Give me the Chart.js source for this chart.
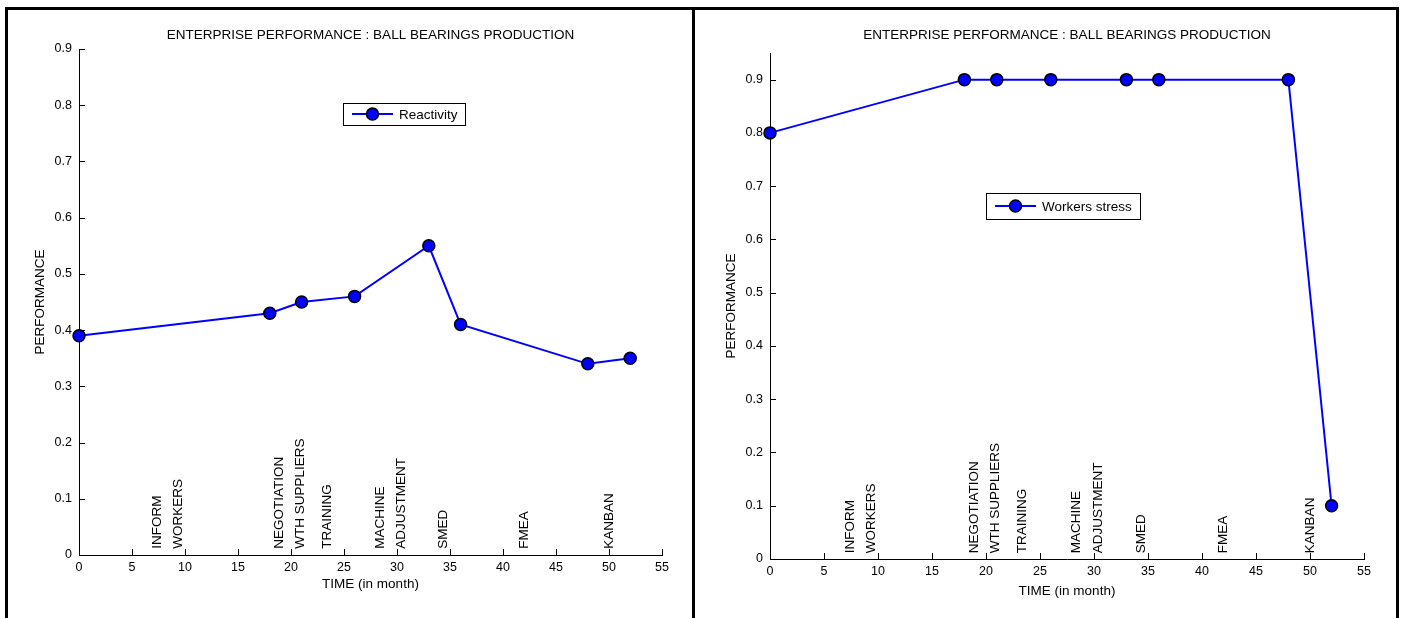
<!DOCTYPE html>
<html>
<head>
<meta charset="utf-8">
<script src="https://cdn.jsdelivr.net/npm/chart.js@4"></script>
<style>
  body { margin: 0; background: #fff; }
  #page { position: relative; width: 1402px; height: 618px; overflow: hidden; background: #fff; }
  .rule { position: absolute; background: #000; z-index: 2; }
  canvas { position: absolute; top: 10px; }
</style>
</head>
<body>
<div id="page">
  <div class="rule" style="left:5px;top:7px;width:3px;height:611px"></div>
  <div class="rule" style="left:5px;top:7px;width:1394px;height:3px"></div>
  <div class="rule" style="left:692px;top:7px;width:3px;height:611px"></div>
  <div class="rule" style="left:1396px;top:7px;width:3px;height:611px"></div>
  <canvas id="reactivityChart" width="682" height="608" style="left:10px"></canvas>
  <canvas id="stressChart" width="700" height="608" style="left:695px"></canvas>
</div>
<script>
// Data
const months = [0, 18, 21, 26, 33, 36, 48, 52];
const reactivity = [0.39, 0.43, 0.45, 0.46, 0.55, 0.41, 0.34, 0.35];
const workersStress = [0.8, 0.9, 0.9, 0.9, 0.9, 0.9, 0.9, 0.1];

// Improvement steps written along the time axis
const stepLabels = ["INFORM", "WORKERS", "NEGOTIATION", "WTH SUPPLIERS", "TRAINING", "MACHINE", "ADJUSTMENT", "SMED", "FMEA", "KANBAN"];
const stepMonths = [7.4, 9.4, 18.9, 20.9, 23.4, 28.4, 30.4, 34.4, 42, 50];
const stepBase = 0.011;

// Axis ticks
const xTicks = [0, 5, 10, 15, 20, 25, 30, 35, 40, 45, 50, 55];
const yTicks = [0, 0.1, 0.2, 0.3, 0.4, 0.5, 0.6, 0.7, 0.8, 0.9];
const yTickLabels = ["0", "0.1", "0.2", "0.3", "0.4", "0.5", "0.6", "0.7", "0.8", "0.9"];

const chartTitle = "ENTERPRISE PERFORMANCE : BALL BEARINGS PRODUCTION";
const BLUE = "#0000ff";
const FAMILY = "'Liberation Sans', Arial, Helvetica, sans-serif";
const textFont = { family: FAMILY, size: 13.5, lineHeight: 1 };
const tickFont = { family: FAMILY, size: 12.5, lineHeight: 1 };

// Draws the MATLAB-ish extras: inward ticks, title, step labels, legend box
const panelDecor = {
    id: "panelDecor",
    beforeDatasetsDraw(chart) {
        const { ctx, chartArea, scales: { x, y } } = chart;
        ctx.save();
        ctx.strokeStyle = "#000";
        ctx.lineWidth = 1;
        ctx.beginPath();
        xTicks.forEach((v) => {
            const px = Math.round(x.getPixelForValue(v)) + 0.5;
            ctx.moveTo(px, chartArea.bottom);
            ctx.lineTo(px, chartArea.bottom - 6);
        });
        yTicks.forEach((v) => {
            const py = Math.round(y.getPixelForValue(v)) + 0.5;
            ctx.moveTo(chartArea.left, py);
            ctx.lineTo(chartArea.left + 6, py);
        });
        ctx.stroke();
        ctx.restore();
    },
    afterDraw(chart, args, opts) {
        const { ctx, chartArea, scales: { x, y } } = chart;
        const font = `${textFont.size}px ${FAMILY}`;
        ctx.save();
        ctx.fillStyle = "#000";
        ctx.font = font;

        // Title, centred over the plot area
        ctx.textAlign = "center";
        ctx.textBaseline = "middle";
        ctx.fillText(chartTitle, (chartArea.left + chartArea.right) / 2, opts.titleY);

        // Vertical step labels
        ctx.textAlign = "left";
        stepLabels.forEach((label, i) => {
            ctx.save();
            ctx.translate(x.getPixelForValue(stepMonths[i]), y.getPixelForValue(stepBase));
            ctx.rotate(-Math.PI / 2);
            ctx.fillText(label, 0, 0);
            ctx.restore();
        });

        // Legend box
        const lg = opts.legend;
        ctx.fillStyle = "#fff";
        ctx.fillRect(lg.x, lg.y, lg.w, lg.h);
        ctx.strokeStyle = "#000";
        ctx.lineWidth = 1;
        ctx.strokeRect(lg.x + 0.5, lg.y + 0.5, lg.w, lg.h);
        const cy = lg.y + lg.h / 2;
        ctx.strokeStyle = BLUE;
        ctx.lineWidth = 2;
        ctx.beginPath();
        ctx.moveTo(lg.x + 9, cy);
        ctx.lineTo(lg.x + 50, cy);
        ctx.stroke();
        ctx.beginPath();
        ctx.arc(lg.x + 29.5, cy, 6, 0, Math.PI * 2);
        ctx.fillStyle = BLUE;
        ctx.fill();
        ctx.strokeStyle = "#000";
        ctx.lineWidth = 1.5;
        ctx.stroke();
        ctx.fillStyle = "#000";
        ctx.textBaseline = "middle";
        ctx.fillText(chart.data.datasets[0].label, lg.x + 56, cy + 1);
        ctx.restore();
    },
};

const makePanel = (canvasId, p) => {
    const ctx = document.getElementById(canvasId);
    return new Chart(ctx, {
        type: "line",
        data: {
            datasets: [
                {
                    label: p.label,
                    data: months.map((m, i) => ({ x: m, y: p.values[i] })),
                    borderColor: BLUE,
                    backgroundColor: BLUE,
                    borderWidth: 2,
                    tension: 0,
                    pointRadius: 6,
                    pointBorderWidth: 1.5,
                    pointBackgroundColor: BLUE,
                    pointBorderColor: "#000",
                    clip: false,
                },
            ],
        },
        options: {
            responsive: false,
            animation: false,
            events: [],
            layout: { padding: { top: p.top, right: p.right, left: 0, bottom: 0 } },
            plugins: {
                legend: { display: false },
                tooltip: { enabled: false },
                panelDecor: { titleY: 25, legend: p.legend },
            },
            scales: {
                x: {
                    type: "linear",
                    min: 0,
                    max: 55,
                    afterBuildTicks: (s) => { s.ticks = xTicks.map((v) => ({ value: v })); },
                    afterFit: (s) => { s.height = p.xHeight; },
                    grid: { display: false, drawTicks: false },
                    border: { display: true, color: "#000", width: 1 },
                    ticks: { font: tickFont, color: "#000", padding: 6, maxRotation: 0, autoSkip: false, callback: (v) => String(v) },
                    title: { display: true, text: "TIME (in month)", font: textFont, color: "#000", padding: { top: 0, bottom: p.xTitlePad } },
                },
                y: {
                    min: 0,
                    max: p.yMax,
                    afterBuildTicks: (s) => { s.ticks = yTicks.map((v) => ({ value: v })); },
                    afterFit: (s) => { s.width = p.yWidth; },
                    grid: { display: false, drawTicks: false },
                    border: { display: true, color: "#000", width: 1 },
                    ticks: { font: tickFont, color: "#000", padding: 7, callback: (v, i) => yTickLabels[i] },
                    title: { display: true, text: "PERFORMANCE", font: textFont, color: "#000", padding: { top: p.yTitlePad, bottom: 0 } },
                },
            },
        },
        plugins: [panelDecor],
    });
};

makePanel("reactivityChart", {
    label: "Reactivity",
    values: reactivity,
    yMax: 0.9,
    top: 39,
    right: 30,
    xHeight: 63,
    yWidth: 69,
    xTitlePad: 27.25,
    yTitlePad: 23.25,
    legend: { x: 333, y: 93, w: 122, h: 22 },
});

makePanel("stressChart", {
    label: "Workers stress",
    values: workersStress,
    yMax: 0.95,
    top: 43,
    right: 31,
    xHeight: 59,
    yWidth: 75,
    xTitlePad: 20.25,
    yTitlePad: 29.25,
    legend: { x: 291, y: 183, w: 154, h: 26 },
});
</script>
</body>
</html>
